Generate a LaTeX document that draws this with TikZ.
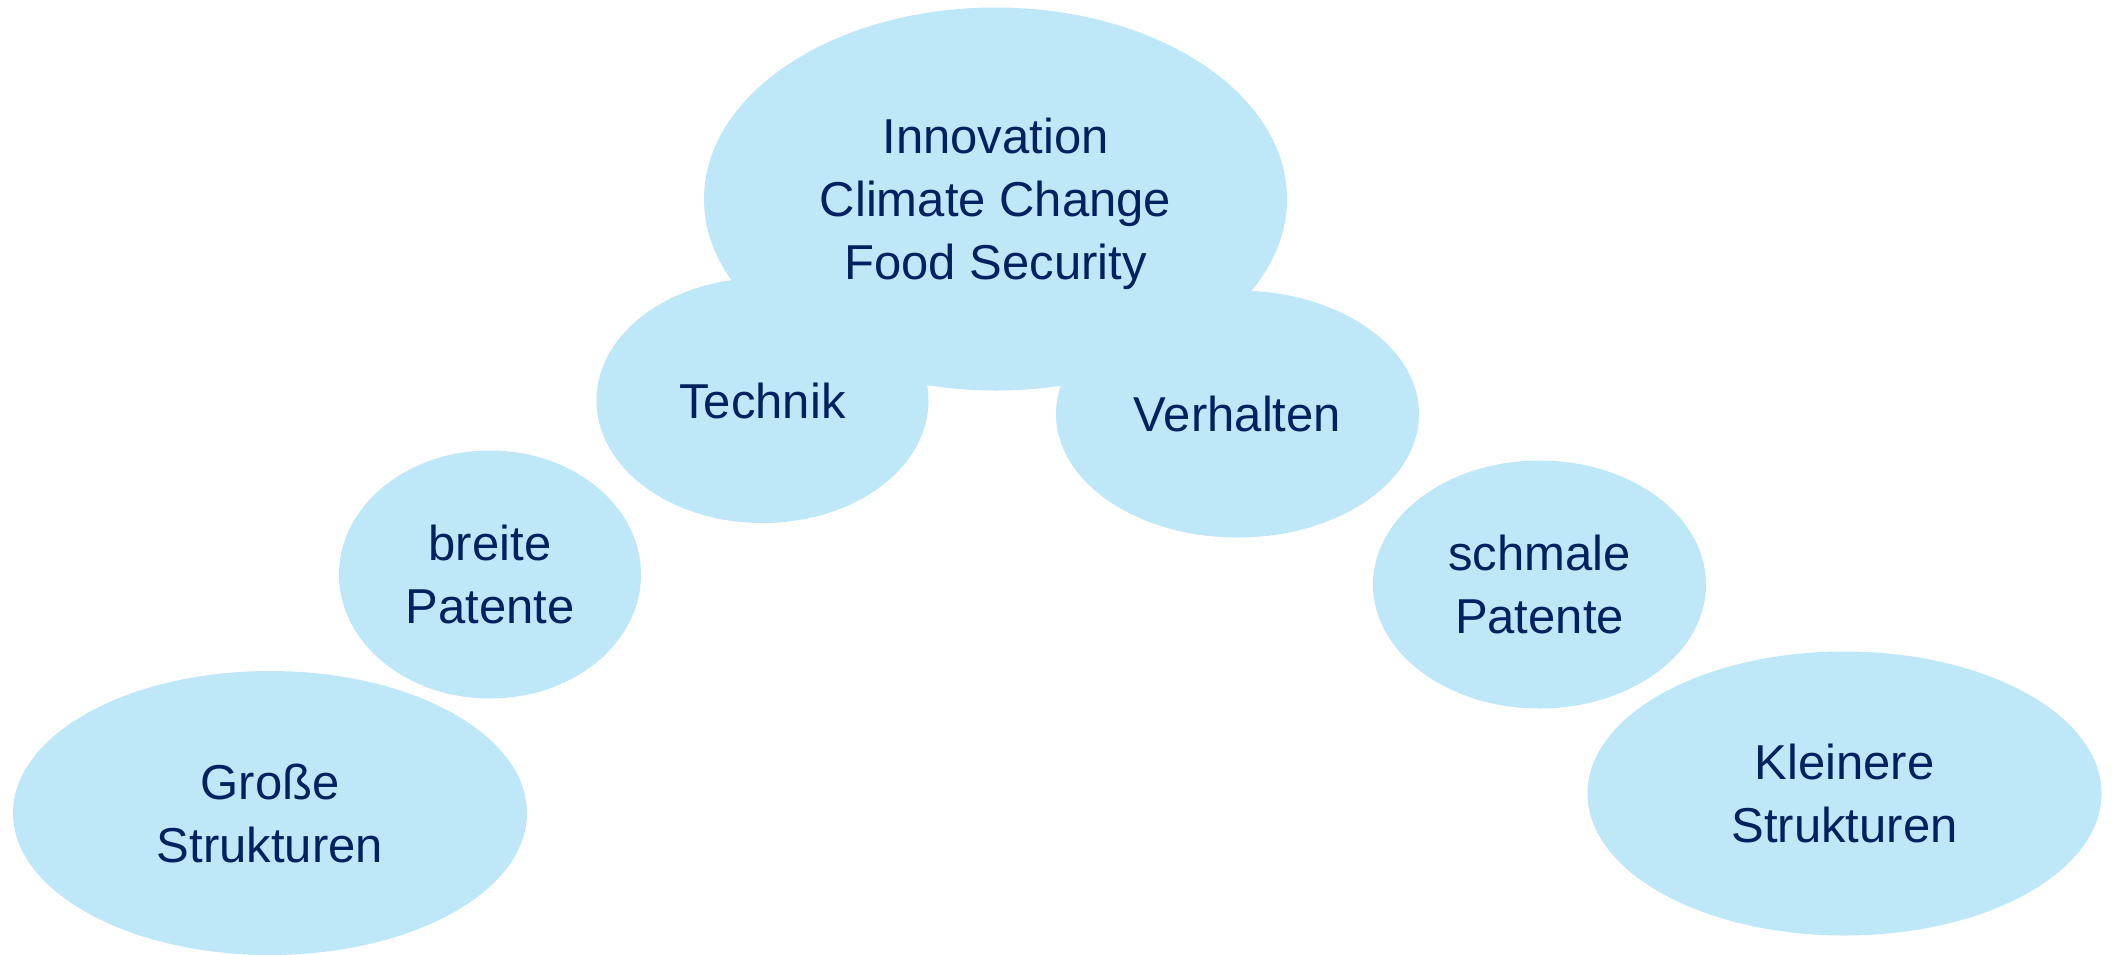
\documentclass[tikz,border=0pt]{standalone}
\usepackage{fontspec}
\setmainfont{Liberation Sans}
\usetikzlibrary{shapes.geometric}
\definecolor{bubblefill}{RGB}{190,231,248}
\definecolor{ink}{RGB}{0,32,96}
\begin{document}
\begin{tikzpicture}[x=1pt,y=-1pt,
  bubble/.style={ellipse, fill=bubblefill, draw=none, inner sep=0pt, outer sep=0pt,
    text=ink, align=center, font=\fontsize{49}{63}\selectfont},
]
\useasboundingbox (0,0) rectangle (2115,954);
\node[bubble, minimum width=583pt, minimum height=383pt] (top) at (995.5,199)
  {Innovation\\Climate Change\\\raisebox{0pt}[\height][0pt]{Food Security}};
\node[bubble, minimum width=332pt, minimum height=245pt] (tech) at (762.5,400.5) {Technik};
\node[bubble, minimum width=363pt, minimum height=247pt] (verh) at (1237.5,414) {Verhalten};
\node[bubble, minimum width=302pt, minimum height=248pt] (breit) at (490,574.5) {breite\\Patente};
\node[bubble, minimum width=333pt, minimum height=248pt] (schmal) at (1539.5,584.5) {schmale\\Patente};
\node[bubble, minimum width=514pt, minimum height=284pt] (gross) at (270,813) {Große\\Strukturen};
\node[bubble, minimum width=514pt, minimum height=284pt] (klein) at (1844.5,793.5) {Kleinere\\Strukturen};
\end{tikzpicture}
\end{document}
